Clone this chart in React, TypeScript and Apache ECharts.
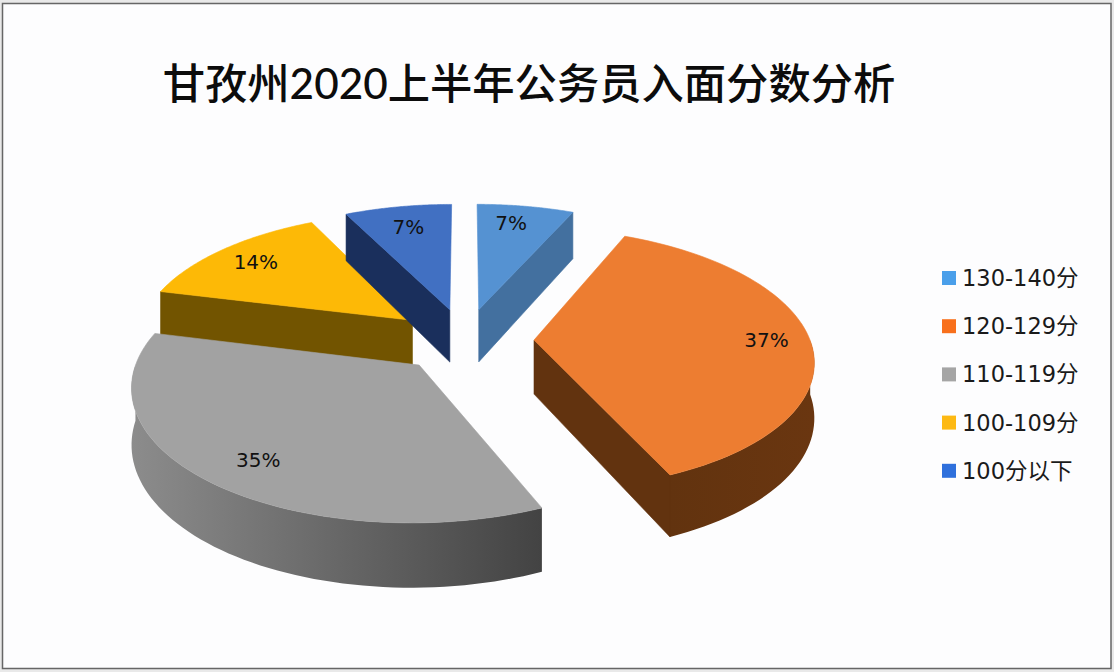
import React, { useEffect, useRef } from "react";
import * as echarts from "echarts";

const titleText = "甘孜州2020上半年公务员入面分数分析";
const categories = ["130-140分", "120-129分", "110-119分", "100-109分", "100分以下"];
const values = [6.6, 36.9, 35.4, 13.8, 7.3];
const percentLabels = ["7%", "37%", "35%", "14%", "7%"];

const topColors = ["#5592d2", "#ed7d31", "#a2a2a2", "#fdb906", "#4170c2"];
const cutColors = ["#43709f", "#62330f", "#5a5a5a", "#725400", "#1a2f5c"];
const wallColors: [string, string][] = [
  ["#43709f", "#43709f"],
  ["#62330f", "#6a3610"],
  ["#8c8c8c", "#434343"],
  ["#725400", "#725400"],
  ["#1a2f5c", "#1a2f5c"],
];
const legendColors = ["#4a9fea", "#f8701c", "#a5a5a5", "#fdb913", "#2f70dc"];
const paintOrder = [2, 3, 5, 4, 6]; // back slices first, front slices last
const labelNudges = [[-7, 0], [6, 0], [9, 2], [1, 1], [2, 3]];

// Projection of the tilted pie on the page
const CX = 465;
const CY = 340;
const RX = 276;
const RY = 128;
const PERSPECTIVE = 0.14;
const EXPLODE = 0.25;
const DEPTH = 54;
const LABEL_RADIUS = 0.82;

const total = values.reduce((a, b) => a + b, 0);
const starts = values.map((_, i) => values.slice(0, i).reduce((a, b) => a + b, 0));

function project(X: number, Y: number, drop = 0): number[] {
  const s = 1 / (1 + PERSPECTIVE * Y);
  return [CX + RX * X * s, CY - RY * Y * s + drop * DEPTH * s];
}

function makeRenderItem(index: number) {
  return (_params: any, api: any) => {
    const value = api.value(0);
    const a0 = (starts[index] / total) * Math.PI * 2;
    const a1 = a0 + (value / total) * Math.PI * 2;
    const mid = (a0 + a1) / 2;
    const ox = EXPLODE * Math.sin(mid);
    const oy = EXPLODE * Math.cos(mid);
    const at = (t: number, r = 1, drop = 0) =>
      project(ox + r * Math.sin(t), oy + r * Math.cos(t), drop);
    const steps = 72;
    const angles: number[] = [];
    for (let i = 0; i <= steps; i++) angles.push(a0 + ((a1 - a0) * i) / steps);
    const apex = project(ox, oy);
    const apexLow = project(ox, oy, 1);

    const children: any[] = [];
    const face = (points: number[][], fill: any, stroke: any) =>
      children.push({
        type: "polygon",
        shape: { points },
        style: { fill, stroke, lineWidth: 0.6 },
      });

    // outer wall (only the part turned to the viewer)
    const front = angles.filter((t) => Math.cos(t) < 0.02);
    if (front.length > 1) {
      const wall = [...front.map((t) => at(t)), ...front.slice().reverse().map((t) => at(t, 1, 1))];
      face(
        wall,
        new echarts.graphic.LinearGradient(0, 0, 1, 0, [
          { offset: 0, color: wallColors[index][0] },
          { offset: 1, color: wallColors[index][1] },
        ]),
        wallColors[index][0] === wallColors[index][1] ? wallColors[index][0] : "transparent"
      );
    }
    // cut faces turned to the viewer
    if (Math.sin(a0) < -0.01)
      face([apex, at(a0), at(a0, 1, 1), apexLow], cutColors[index], cutColors[index]);
    if (-Math.sin(a1) < -0.01)
      face([apex, at(a1), at(a1, 1, 1), apexLow], cutColors[index], cutColors[index]);
    // top surface
    face([apex, ...angles.map((t) => at(t))], topColors[index], topColors[index]);
    // percentage
    const lp = at(mid, LABEL_RADIUS);
    children.push({
      type: "text",
      x: lp[0] + labelNudges[index][0],
      y: lp[1] + labelNudges[index][1],
      z2: 10,
      style: {
        text: percentLabels[index],
        fill: "#111",
        font: '20px "DejaVu Sans", sans-serif',
        align: "center",
        verticalAlign: "middle",
      },
    });
    return { type: "group", children };
  };
}

export default function App() {
  const ref = useRef<HTMLDivElement>(null);
  useEffect(() => {
    document.body.style.margin = "0";
    const chart = echarts.init(ref.current!, undefined, { renderer: "svg" });
    chart.setOption({
      animation: false,
      backgroundColor: "#e9e9e9",
      title: {
        text: titleText,
        left: 524,
        top: 56,
        textAlign: "center",
        textStyle: {
          fontFamily: '"Lato", "Noto Sans CJK SC", sans-serif',
          fontSize: 42.3,
          fontWeight: 500,
          color: "#0c0c0c",
        },
      },
      legend: {
        orient: "vertical",
        left: 942,
        top: 265,
        padding: 0,
        icon: "rect",
        itemWidth: 14,
        itemHeight: 14,
        itemGap: 22.2,
        selectedMode: false,
        data: categories.map((name, i) => ({ name, itemStyle: { color: legendColors[i] } })),
        textStyle: {
          fontFamily: '"DejaVu Sans", "Noto Sans CJK SC", sans-serif',
          fontSize: 22.5,
          color: "#1a1a1a",
          padding: [0, 0, 0, 1],
          lineHeight: 26,
        },
      },
      graphic: [
        {
          type: "rect",
          z: -10,
          silent: true,
          shape: { x: 2.5, y: 3.5, width: 1108.5, height: 665 },
          style: { fill: "#fdfdfe", stroke: "#666666", lineWidth: 1.5 },
        },
      ],
      series: categories.map((name, i) => ({
        type: "custom",
        name,
        coordinateSystem: "none",
        silent: true,
        z: paintOrder[i],
        clip: false,
        itemStyle: { color: topColors[i] },
        data: [[values[i]]],
        renderItem: makeRenderItem(i),
      })),
    });
    return () => chart.dispose();
  }, []);
  return <div ref={ref} style={{ width: 1114, height: 672 }} />;
}
